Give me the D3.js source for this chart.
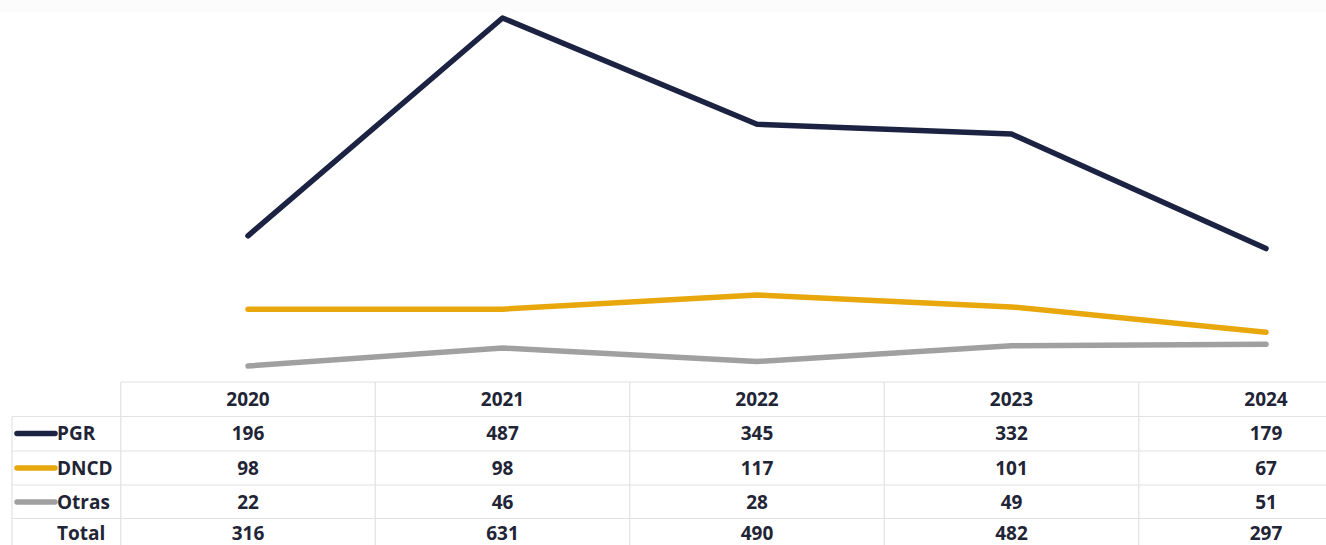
<!DOCTYPE html>
<html>
<head>
<meta charset="utf-8">
<script src="https://cdn.jsdelivr.net/npm/d3@7"></script>
<style>
html,body{margin:0;padding:0;background:#fff;}
svg{display:block;font-family:"Open Sans",sans-serif;}
</style>
</head>
<body>
<script>
const years = ["2020","2021","2022","2023","2024"];
const pgr = [196,487,345,332,179];
const dncd = [98,98,117,101,67];
const otras = [22,46,28,49,51];
const total = [316,631,490,482,297];
const seriesNames = ["PGR","DNCD","Otras"];
const seriesColors = ["#1c2342","#e8a70d","#a0a0a0"];

const W = 1326, H = 545;
const svg = d3.select("body").append("svg").attr("width",W).attr("height",H);

svg.append("rect").attr("x",0).attr("y",0).attr("width",W).attr("height",12).attr("fill","#fcfcfc");

const x = d3.scalePoint().domain(years).range([248,1266]);
const step = x.step();
const y = d3.scaleLinear().domain([0,487]).range([382.5,18]);

const series = [pgr, dncd, otras];
const line = d3.line().x((d,i)=>x(years[i])).y(d=>y(d));

// table grid
const gridColor = "#e2e2e2";
const rowY = [382, 416.5, 451, 485, 518.5];
const rowH = 34;
const colEdges = years.map(yr => x(yr) - step/2);
const tableLeft = 12;

const g = svg.append("g").attr("stroke",gridColor).attr("stroke-width",1.2);
g.append("line").attr("x1",colEdges[0]).attr("x2",W).attr("y1",rowY[0]).attr("y2",rowY[0]);
for (let i=1;i<rowY.length;i++){
  g.append("line").attr("x1",tableLeft).attr("x2",W).attr("y1",rowY[i]).attr("y2",rowY[i]);
}
colEdges.forEach(cx=>{
  g.append("line").attr("x1",cx).attr("x2",cx).attr("y1",rowY[0]).attr("y2",H);
});
g.append("line").attr("x1",tableLeft).attr("x2",tableLeft).attr("y1",rowY[1]).attr("y2",H);

// lines
series.forEach((s,k)=>{
  svg.append("path").datum(s).attr("d",line)
    .attr("fill","none").attr("stroke",seriesColors[k])
    .attr("stroke-width",5.5).attr("stroke-linecap","round").attr("stroke-linejoin","round");
});

const textColor = "#1f2536";
const fs = 19;
years.forEach(yr=>{
  svg.append("text").attr("x",x(yr)).attr("y",rowY[0]+rowH/2).attr("dy","0.35em")
    .attr("text-anchor","middle").attr("font-weight",700).attr("font-size",fs).attr("fill",textColor).text(yr);
});
const rows = [pgr, dncd, otras, total];
const rowLabels = seriesNames.concat(["Total"]);
rows.forEach((r,ri)=>{
  const cy = ri < 3 ? rowY[ri+1] + rowH/2 : 533.5;
  if (ri < 3) {
    svg.append("line").attr("x1",17).attr("x2",55).attr("y1",cy).attr("y2",cy)
      .attr("stroke",seriesColors[ri]).attr("stroke-width",5.5).attr("stroke-linecap","round");
  }
  svg.append("text").attr("x",57).attr("y",cy).attr("dy","0.35em")
    .attr("font-weight",700).attr("font-size",fs).attr("fill",textColor).text(rowLabels[ri]);
  r.forEach((v,i)=>{
    svg.append("text").attr("x",x(years[i])).attr("y",cy).attr("dy","0.35em")
      .attr("text-anchor","middle").attr("font-weight",700).attr("font-size",fs).attr("fill",textColor).text(v);
  });
});
</script>
</body>
</html>
